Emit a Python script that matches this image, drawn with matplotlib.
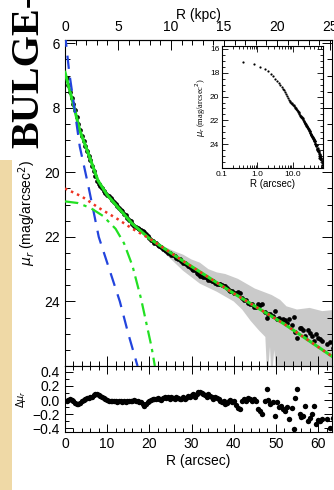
import matplotlib
matplotlib.use('Agg')
import matplotlib.pyplot as plt
from matplotlib.patches import Rectangle
from matplotlib.ticker import MultipleLocator, FixedLocator, FixedFormatter, NullFormatter

plt.rcParams['font.family'] = ['Liberation Sans', 'DejaVu Sans']

# ---------------- data ----------------
kpc_per_arcsec = 0.398

# model components (R in arcsec, mu in mag/arcsec^2)
bulge_R = [0, 1, 2, 3.5, 5.5, 8, 10.5, 13, 15, 17.2]
bulge_mu = [15.7, 16.9, 17.8, 19.2, 20.4, 22.0, 23.0, 24.0, 25.0, 26.0]

disk_R = [0, 4, 8, 12.5, 16, 20, 28, 40, 52, 63.3]
disk_mu = [20.5, 20.75, 21.1, 21.45, 21.75, 22.05, 22.75, 23.75, 24.7, 25.7]

bar_R = [0, 3, 6, 9, 12, 14, 16, 18, 19.5, 20.5, 21.3]
bar_mu = [20.9, 20.95, 21.1, 21.35, 21.75, 22.2, 22.9, 23.9, 24.8, 25.4, 26.0]

total_R = [0, 1, 2, 3.5, 5.2, 7.8, 10, 13, 16, 20, 28, 40, 52, 63.3]
total_mu = [16.9, 17.4, 17.9, 18.7, 19.3, 20.25, 20.7, 21.15, 21.6, 22.05, 22.75, 23.75, 24.7, 25.7]

# uncertainty band (upper = bright edge, lower = faint edge)
band_up_R = [20, 22, 24, 26, 28, 30, 32, 34, 36, 38, 41, 43, 45, 47, 49, 51, 52.5, 55, 58, 61, 63.3]
band_up_mu = [22.05, 22.2, 22.33, 22.45, 22.55, 22.7, 22.8, 23.0, 23.1, 23.15, 23.3, 23.45, 23.6, 23.7,
              23.8, 23.95, 24.15, 24.25, 24.2, 24.3, 24.27]
band_lo_R = [20, 24, 28, 32, 36, 40, 42, 44, 46, 47.5, 48.0, 48.6, 49.0, 49.6, 50.2, 50.6, 63.3]
band_lo_mu = [22.1, 22.55, 23.05, 23.45, 23.7, 24.0, 24.25, 24.6, 24.9, 25.1, 26.5, 25.4, 26.5, 25.5,
              26.5, 26.5, 26.5]

# measured profile: radius, surface brightness, residual (data - model)
data_R = [0.4, 0.8, 1.2, 1.6, 2.0, 2.4, 2.8, 3.2, 3.6, 4.0, 4.4, 4.8, 5.2, 5.6, 6.0,
          6.4, 6.8, 7.2, 7.6, 8.0, 8.4, 8.8, 9.2, 9.6, 10.0, 10.4, 10.8, 11.2, 11.6, 12.0,
          12.4, 12.8, 13.2, 13.6, 14.0, 14.4, 14.8, 15.2, 15.6, 16.0, 16.4, 16.8, 17.2, 17.6, 18.0,
          18.4, 18.8, 19.2, 19.6, 20.0, 20.4, 20.8, 21.2, 21.6, 22.0, 22.4, 22.8, 23.2, 23.6, 24.0,
          24.4, 24.8, 25.2, 25.6, 26.0, 26.4, 26.8, 27.2, 27.6, 28.0, 28.4, 28.8, 29.2, 29.6, 30.0,
          30.4, 30.8, 31.2, 31.6, 32.0, 32.4, 32.8, 33.2, 33.6, 34.0, 34.4, 34.8, 35.2, 35.6, 36.0,
          36.4, 36.8, 37.2, 37.6, 38.0, 38.4, 38.8, 39.2, 39.6, 40.0,
          40.6, 41.0, 41.4, 41.9, 42.4, 42.9, 43.4, 43.9, 44.4, 44.9, 45.4, 45.8, 46.3, 46.8, 47.3,
          47.8, 48.2, 48.7, 49.2, 49.7, 50.2, 50.7, 51.2, 51.7, 52.2, 52.7, 53.2, 53.7, 54.2, 54.6,
          55.1, 55.6, 56.0, 56.5, 57.0, 57.5, 58.0, 58.5, 59.0, 59.5, 60.0, 60.5, 61.0, 62.0, 62.8,
          63.6, 64.3, 65.0, 65.7, 66.4]
data_mu = [17.08, 17.30, 17.52, 17.70, 17.88, 18.07, 18.28, 18.49, 18.70, 18.86, 19.02, 19.18, 19.33, 19.48, 19.63,
           19.79, 19.95, 20.11, 20.26, 20.36, 20.43, 20.50, 20.57, 20.64, 20.70, 20.74, 20.80, 20.86, 20.93, 20.98,
           21.03, 21.10, 21.16, 21.21, 21.28, 21.33, 21.40, 21.47, 21.52, 21.59, 21.65, 21.68, 21.72, 21.75, 21.80,
           21.82, 21.84, 21.90, 21.98, 22.03, 22.09, 22.13, 22.18, 22.20, 22.26, 22.28, 22.30, 22.36, 22.41, 22.43,
           22.49, 22.49, 22.55, 22.57, 22.60, 22.66, 22.68, 22.69, 22.74, 22.80, 22.80, 22.85, 22.91, 22.93, 22.99,
           23.03, 23.03, 23.11, 23.16, 23.20, 23.22, 23.23, 23.25, 23.27, 23.33, 23.34, 23.36, 23.37, 23.43, 23.45,
           23.46, 23.46, 23.49, 23.53, 23.53, 23.58, 23.63, 23.68, 23.69, 23.74,
           23.73, 23.72, 23.73, 23.88, 23.96, 23.97, 24.05, 24.07, 24.09, 24.16, 24.16, 24.09, 24.10, 24.09, 24.32,
           24.52, 24.40, 24.39, 24.45, 24.29, 24.53, 24.50, 24.56, 24.55, 24.57, 24.66, 24.54, 24.74, 24.49, 24.96,
           25.12, 24.82, 24.81, 24.88, 25.06, 24.89, 24.98, 25.08, 25.24, 25.02, 25.13, 25.15, 25.24, 25.31, 25.26,
           25.45, 25.6, 25.75, 25.9, 26.0]
res_d = [-0.02, 0.0, 0.02, 0.0, -0.02, -0.04, -0.05, -0.05, -0.04, -0.02, 0.0, 0.02, 0.03, 0.03, 0.04,
         0.05, 0.07, 0.08, 0.08, 0.07, 0.06, 0.05, 0.03, 0.02, 0.0, -0.02, -0.02, -0.02, -0.01, -0.02,
         -0.03, -0.02, -0.02, -0.03, -0.02, -0.03, -0.02, -0.01, -0.02, -0.01, 0.0, -0.01, -0.02, -0.03, -0.03,
         -0.05, -0.08, -0.06, -0.03, -0.02, 0.0, 0.01, 0.02, 0.01, 0.03, 0.02, 0.0, 0.03, 0.04, 0.03,
         0.05, 0.02, 0.04, 0.03, 0.02, 0.05, 0.03, 0.01, 0.02, 0.05, 0.02, 0.03, 0.06, 0.05, 0.07,
         0.08, 0.05, 0.09, 0.11, 0.12, 0.1, 0.08, 0.07, 0.05, 0.08, 0.06, 0.04, 0.02, 0.05, 0.03,
         0.01, -0.02, -0.03, -0.02, -0.05, -0.04, -0.02, 0.0, -0.03, -0.01,
         -0.07, -0.11, -0.13, -0.02, 0.02, -0.01, 0.03, 0.01, -0.01, 0.02, -0.02, -0.12, -0.15, -0.2, -0.01,
         0.15, 0.0, -0.05, -0.03, -0.23, -0.03, -0.1, -0.08, -0.13, -0.15, -0.1, -0.27, -0.11, -0.41, 0.03,
         0.15, -0.2, -0.24, -0.22, -0.08, -0.3, -0.25, -0.2, -0.08, -0.34, -0.28, -0.3, -0.26, -0.27, -0.4,
         -0.25, -0.2, -0.1, -0.05, -0.1]

# ---------------- figure ----------------
W, H = 334, 490
fig = plt.figure(figsize=(W / 100, H / 100), dpi=100)


def box(l, t, r, b):
    return [l / W, 1 - b / H, (r - l) / W, (b - t) / H]


ax = fig.add_axes(box(65, 40, 332, 366))
axr = fig.add_axes(box(65, 366, 332, 432))
axi = fig.add_axes(box(222, 46, 323, 168))

# gray band
poly_R = list(band_up_R) + list(band_lo_R[::-1])
poly_mu = list(band_up_mu) + list(band_lo_mu[::-1])
ax.fill(poly_R, poly_mu, color='#cacaca', lw=0, zorder=1)
ax.plot(data_R, data_mu, 'o', color='black', ms=3.4, mec='none', zorder=2)
ax.plot(total_R, total_mu, '-', color='#22e022', lw=2.2, zorder=3)
ax.plot(disk_R, disk_mu, ':', color='#ee3322', lw=1.8, zorder=4)
ax.plot(bulge_R, bulge_mu, '--', color='#2244dd', lw=1.6, dashes=(6, 4), zorder=4)
ax.plot(bar_R, bar_mu, '-.', color='#22e022', lw=1.6, dashes=(6, 2.5, 1.5, 2.5), zorder=4)

ax.set_xlim(0, 63.3)
ax.set_ylim(26, 15.9)
ax.yaxis.set_major_locator(FixedLocator([16, 18, 20, 22, 24]))
ax.yaxis.set_minor_locator(MultipleLocator(0.5))
ax.xaxis.set_major_locator(MultipleLocator(10))
ax.xaxis.set_minor_locator(MultipleLocator(2))
ax.tick_params(axis='both', which='both', direction='in', top=False, right=True,
               labelbottom=False, labelsize=10, width=0.7)
ax.tick_params(which='major', length=7)
ax.tick_params(which='minor', length=3.5)
ax.set_ylabel('$\\mu_r$ (mag/arcsec$^2$)', fontsize=10)
ax.yaxis.set_label_coords(-0.1, 0.47)

sec = ax.secondary_xaxis('top', functions=(lambda x: x * kpc_per_arcsec,
                                            lambda k: k / kpc_per_arcsec))
sec.xaxis.set_major_locator(MultipleLocator(5))
sec.xaxis.set_minor_locator(MultipleLocator(1))
sec.tick_params(which='both', direction='in', labelsize=10, width=0.7, pad=4)
sec.tick_params(which='major', length=7)
sec.tick_params(which='minor', length=3.5)
sec.set_xlabel('R (kpc)', fontsize=10, labelpad=1)

# residuals
axr.plot(data_R, res_d, 'o', color='black', ms=3.9, mec='none')
axr.set_xlim(0, 63.3)
axr.set_ylim(-0.45, 0.48)
axr.yaxis.set_major_locator(FixedLocator([-0.4, -0.2, 0.0, 0.2, 0.4]))
axr.yaxis.set_major_formatter(FixedFormatter(['\u22120.4', '\u22120.2', '0.0', '0.2', '0.4']))
axr.yaxis.set_minor_locator(MultipleLocator(0.1))
axr.xaxis.set_major_locator(MultipleLocator(10))
axr.xaxis.set_minor_locator(MultipleLocator(2))
axr.tick_params(axis='both', which='both', direction='in', top=True, right=True,
                labelsize=10, width=0.7)
axr.tick_params(which='major', length=6)
axr.tick_params(which='minor', length=3)
axr.set_xlabel('R (arcsec)', fontsize=10, labelpad=2)
axr.set_ylabel('$\\Delta\\mu_r$', fontsize=7)
axr.yaxis.set_label_coords(-0.14, 0.5)

# inset
axi.plot(data_R, data_mu, 'o', color='black', ms=1.6, mec='none')
axi.set_xscale('log')
axi.set_xlim(0.1, 70)
axi.set_ylim(26, 15.75)
axi.xaxis.set_major_locator(FixedLocator([0.1, 1.0, 10.0]))
axi.xaxis.set_major_formatter(FixedFormatter(['0.1', '1.0', '10.0']))
axi.xaxis.set_minor_formatter(NullFormatter())
axi.yaxis.set_major_locator(FixedLocator([16, 18, 20, 22, 24]))
axi.yaxis.set_minor_locator(MultipleLocator(0.5))
axi.tick_params(axis='both', which='both', direction='in', top=True, right=True,
                labelsize=6, width=0.6, pad=2)
axi.tick_params(which='major', length=4)
axi.tick_params(which='minor', length=2)
axi.set_xlabel('R (arcsec)', fontsize=7, labelpad=1)
axi.set_ylabel('$\\mu_r$ (mag/arcsec$^2$)', fontsize=6, labelpad=1,
               family=['Liberation Serif', 'DejaVu Serif'])

# overlays: white title box with rotated text, beige strip
fig.add_artist(Rectangle((0, 1 - 153 / H), 52 / W, 153 / H, transform=fig.transFigure,
                         facecolor='white', edgecolor='none', zorder=5))
fig.add_artist(Rectangle((0, 0), 12 / W, 1 - 160 / H, transform=fig.transFigure,
                         facecolor='#efd9a6', edgecolor='none', zorder=5))
fig.text(38 / W, 1 - 148 / H, 'BULGE-', rotation=90, rotation_mode='anchor',
         ha='left', va='baseline', fontsize=29, fontweight='bold',
         family=['Liberation Serif', 'DejaVu Serif'], zorder=6)

fig.savefig('out.png', dpi=100)
